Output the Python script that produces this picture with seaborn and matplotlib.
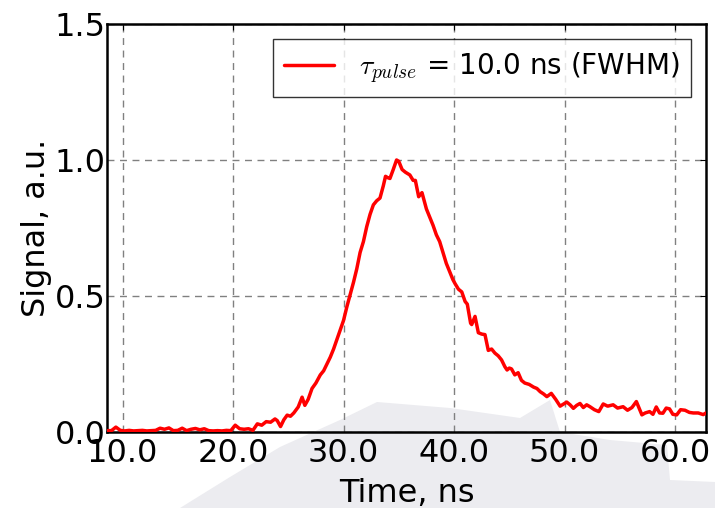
"""
Pulse shape plot: normalised signal vs. time (tau_pulse = 10 ns FWHM).
"""

import numpy as np
import pandas as pd
import matplotlib
matplotlib.use("Agg")
import matplotlib.pyplot as plt
from matplotlib.patches import Polygon
import seaborn as sns

# --- data ---
time_ns = [
    8.6, 9.0, 9.4, 9.8, 10.2, 10.6, 11.0, 11.4, 11.8, 12.2, 12.6, 13.0, 13.4,
    13.8, 14.2, 14.6, 15.0, 15.4, 15.8, 16.2, 16.6, 17.0, 17.4, 17.8, 18.2,
    18.6, 19.0, 19.4, 19.8, 20.2, 20.6, 21.0, 21.4, 21.8, 22.2, 22.6, 23.0,
    23.4, 23.8, 24.0, 24.3, 24.6, 24.9, 25.2, 25.5, 25.9, 26.25, 26.5, 26.8,
    27.15, 27.5, 27.9, 28.2, 28.5, 28.8, 29.1, 29.4, 29.7, 30.0, 30.3, 30.6,
    30.9, 31.2, 31.5, 31.8, 32.1, 32.4, 32.7, 33.0, 33.3, 33.6, 33.8, 34.0,
    34.2, 34.5, 34.8, 35.0, 35.3, 35.6, 36.0, 36.3, 36.5, 36.8, 37.1, 37.5,
    37.8, 38.1, 38.4, 38.7, 39.0, 39.3, 39.6, 39.9, 40.1, 40.4, 40.7, 41.0,
    41.2, 41.5, 41.6, 41.9, 42.2, 42.5, 42.8, 43.1, 43.4, 43.7, 44.0, 44.3,
    44.6, 44.8, 45.0, 45.2, 45.5, 45.8, 46.1, 46.4, 46.8, 47.2, 47.5, 47.8,
    48.1, 48.4, 48.8, 49.2, 49.6, 50.0, 50.2, 50.5, 50.8, 51.1, 51.4, 51.7,
    52.0, 52.3, 52.7, 53.1, 53.5, 53.9, 54.4, 54.8, 55.3, 55.7, 56.1, 56.5,
    57.0, 57.3, 57.7, 58.0, 58.3, 58.6, 58.9, 59.2, 59.5, 59.8, 60.15, 60.5,
    60.9, 61.3, 61.65, 62.1, 62.55, 62.8,
]
signal = [
    0.005, 0.005, 0.018, 0.006, 0.004, 0.006, 0.004, 0.005, 0.006, 0.004,
    0.005, 0.006, 0.014, 0.010, 0.015, 0.005, 0.006, 0.014, 0.005, 0.010,
    0.013, 0.008, 0.012, 0.005, 0.004, 0.005, 0.004, 0.006, 0.005, 0.025,
    0.012, 0.010, 0.012, 0.006, 0.030, 0.025, 0.038, 0.036, 0.048, 0.042,
    0.020, 0.045, 0.062, 0.058, 0.070, 0.092, 0.128, 0.098, 0.120, 0.160,
    0.180, 0.210, 0.225, 0.250, 0.275, 0.305, 0.340, 0.375, 0.410, 0.460,
    0.505, 0.550, 0.600, 0.660, 0.700, 0.755, 0.800, 0.835, 0.850, 0.860,
    0.905, 0.940, 0.935, 0.932, 0.965, 1.000, 0.995, 0.965, 0.955, 0.945,
    0.925, 0.925, 0.865, 0.880, 0.820, 0.790, 0.760, 0.725, 0.700, 0.660,
    0.620, 0.590, 0.560, 0.545, 0.525, 0.515, 0.480, 0.470, 0.400, 0.395,
    0.425, 0.365, 0.360, 0.358, 0.300, 0.305, 0.290, 0.280, 0.265, 0.240,
    0.228, 0.235, 0.232, 0.210, 0.218, 0.190, 0.180, 0.175, 0.165, 0.160,
    0.148, 0.140, 0.130, 0.142, 0.120, 0.095, 0.105, 0.110, 0.100, 0.087,
    0.098, 0.105, 0.090, 0.100, 0.093, 0.082, 0.075, 0.103, 0.095, 0.100,
    0.088, 0.093, 0.080, 0.090, 0.112, 0.063, 0.070, 0.075, 0.065, 0.092,
    0.070, 0.069, 0.088, 0.085, 0.065, 0.063, 0.082, 0.080, 0.072, 0.070,
    0.070, 0.064, 0.070,
]
x_ticks = [10.0, 20.0, 30.0, 40.0, 50.0, 60.0]
y_ticks = [0.0, 0.5, 1.0, 1.5]
legend_label = r"$\tau_{pulse}$ = 10.0 ns (FWHM)"

df = pd.DataFrame({"time": time_ns, "signal": signal})

sns.set_style("white")
plt.rcParams["font.family"] = ["DejaVu Sans"]
plt.rcParams["mathtext.fontset"] = "cm"
plt.rcParams["text.color"] = "black"
plt.rcParams["axes.labelcolor"] = "black"
plt.rcParams["xtick.color"] = "black"
plt.rcParams["ytick.color"] = "black"

fig = plt.figure(figsize=(7.15, 5.08), dpi=100)

# faint grey blot from the scanned page, behind everything
blot_px = [(180, 508), (230, 477), (280, 447), (340, 420), (377, 402),
           (450, 408), (520, 418), (550, 400), (560, 432), (610, 440),
           (667, 445), (670, 480), (715, 482), (715, 508)]
blot = Polygon([(x / 715, 1 - y / 508) for x, y in blot_px],
               closed=True, transform=fig.transFigure,
               facecolor="#ececf0", edgecolor="none", zorder=0)
fig.patches.append(blot)

ax = fig.add_axes([0.1497, 0.1496, 0.8377, 0.8032])
ax.set_facecolor("none")
ax.set_zorder(1)

sns.lineplot(data=df, x="time", y="signal", ax=ax, color="red",
             lw=2.5, label=legend_label, zorder=3)

ax.set_xlim(8.6, 62.8)
ax.set_ylim(0, 1.5)
ax.set_xticks(x_ticks)
ax.set_xticklabels([f"{v:.1f}" for v in x_ticks])
ax.set_yticks(y_ticks)
ax.set_yticklabels([f"{v:.1f}" for v in y_ticks])
ax.tick_params(axis="both", labelsize=23, direction="in", length=4,
               top=True, right=True)
ax.tick_params(axis="x", pad=4)
ax.tick_params(axis="y", pad=1)
ax.set_xlabel("Time, ns", fontsize=23, labelpad=7)
ax.set_ylabel("Signal, a.u.", fontsize=23, labelpad=2)

ax.grid(True, color="#808080", linestyle=(0, (5, 4)), lw=1.0)
for sp in ax.spines.values():
    sp.set_visible(True)
    sp.set_color("black")
    sp.set_linewidth(1.8)

leg = ax.legend(loc="upper right", fontsize=20, frameon=True, fancybox=False,
                handlelength=1.8, handletextpad=0.9, borderpad=0.4,
                borderaxespad=0.55)
leg.get_frame().set_edgecolor("black")
leg.get_frame().set_linewidth(1.0)

fig.savefig("out.png", dpi=100)
plt.close(fig)
